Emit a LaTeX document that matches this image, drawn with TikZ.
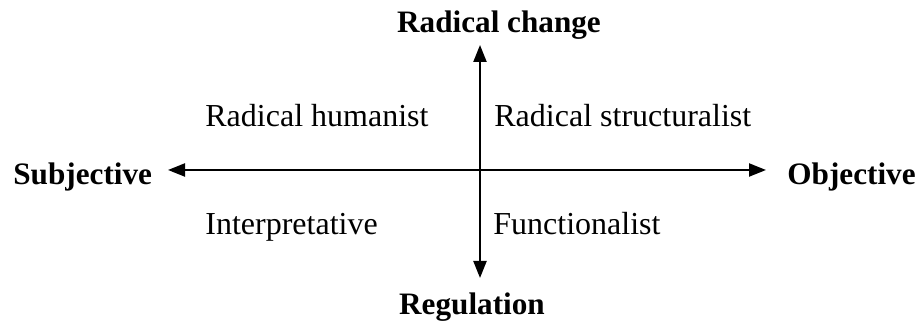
\documentclass[tikz,border=0pt]{standalone}
\usepackage{fontspec}
\setmainfont{Liberation Serif}
\usetikzlibrary{arrows.meta}

\begin{document}
\begin{tikzpicture}[
    x=0.5pt, y=-0.5pt,
    >={Triangle[length=8.5pt, width=6.5pt]},
    axis/.style={<->, line width=1.1pt},
    pole/.style={font=\fontsize{15.6}{18}\selectfont\bfseries, inner sep=0pt},
    quad/.style={font=\fontsize{16}{19}\selectfont, inner sep=0pt, anchor=base west}
]
\useasboundingbox (0,0) rectangle (917,335);

% axis ends
\coordinate (left)   at (168,170);
\coordinate (right)  at (766,170);
\coordinate (top)    at (480,45);
\coordinate (bottom) at (480,278);

% poles
\node[pole, anchor=base]      (rc)   at (499,33)  {Radical change};
\node[pole, anchor=base]      (reg)  at (472,315) {Regulation};
\node[pole, anchor=base west] (subj) at (13,185)  {Subjective};
\node[pole, anchor=base west] (obj)  at (787,185) {Objective};

% quadrants
\node[quad] (rh)     at (205,127) {Radical humanist};
\node[quad] (rs)     at (494,127) {Radical structuralist};
\node[quad] (interp) at (205,235) {Interpretative};
\node[quad] (func)   at (493,235) {Functionalist};

% axes
\draw[axis] (left) -- (right);
\draw[axis] (top) -- (bottom);

\end{tikzpicture}
\end{document}
